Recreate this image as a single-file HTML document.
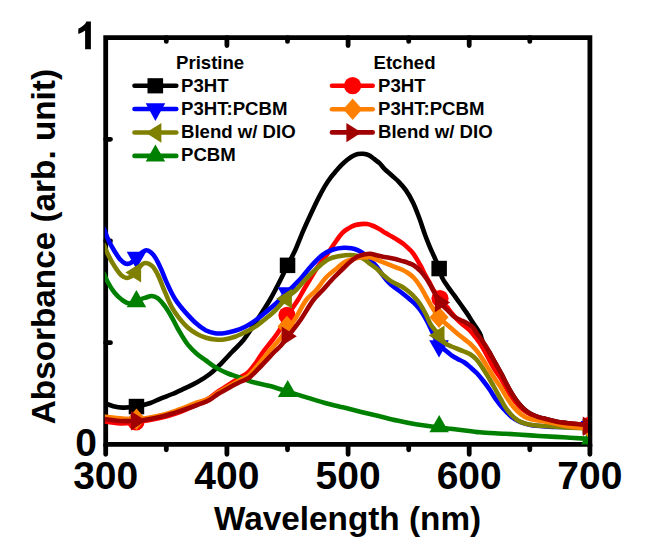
<!DOCTYPE html>
<html><head><meta charset="utf-8">
<style>
html,body{margin:0;padding:0;background:#fff;}
body{width:647px;height:555px;overflow:hidden;}
svg{display:block;}
text{font-family:"Liberation Sans",sans-serif;font-weight:bold;fill:#000;}
</style></head>
<body>
<svg width="647" height="555" viewBox="0 0 647 555">
<rect width="647" height="555" fill="#fff"/>
<defs><clipPath id="pc"><rect x="104.8" y="37.6" width="483.2" height="406.8"/></clipPath></defs>



<g stroke="#000" stroke-width="4.8" fill="none" stroke-linecap="round">
<path d="M105.7 37.6H589.9V444.4H105.7Z" stroke-linejoin="miter" stroke-linecap="butt"/>
<path d="M105.7 444.4V454.3M226.9 444.4V454.3M348.1 444.4V454.3M469.2 444.4V454.3M589.9 444.4V454.3"/>
<path d="M166.3 444.4V449.8M287.5 444.4V449.8M408.7 444.4V449.8M529.8 444.4V449.8"/>
<path d="M226.9 37.6V45.6M348.1 37.6V45.6M469.2 37.6V45.6"/>
<path d="M166.3 37.6V41.4M287.5 37.6V41.4M408.7 37.6V41.4M529.8 37.6V41.4"/>
<path d="M105.7 342.7H110.5M105.7 241H110.5M105.7 139.3H110.5"/>
</g>

<g clip-path="url(#pc)" fill="none" stroke-width="4.6" stroke-linejoin="round" stroke-linecap="round">
<path d="M105.6 403.5 C108.2 404.4 110.6 405.5 113.3 406.2 C116.2 406.9 119.2 407.5 122.6 407.6 C126.7 407.7 131.8 407.3 136.4 406.5 C141.1 405.7 146.2 404.4 150.4 403.0 C154.0 401.8 156.6 400.2 160.0 398.8 C163.9 397.2 168.3 395.7 172.4 394.0 C176.5 392.3 180.6 390.3 184.7 388.4 C188.8 386.4 193.0 384.6 197.1 382.3 C201.3 379.9 205.5 377.3 209.5 374.2 C213.8 370.9 218.0 366.6 221.8 362.8 C225.4 359.2 228.5 355.7 232.0 352.0 C235.7 348.1 239.7 344.6 243.5 340.0 C247.9 334.5 252.2 327.5 256.5 321.0 C261.0 314.2 265.7 307.0 269.8 300.0 C273.7 293.3 277.3 286.2 280.4 280.0 C283.1 274.8 285.1 270.1 287.5 265.3 C289.8 260.6 292.2 256.7 294.6 251.6 C297.5 245.4 300.1 237.9 303.2 230.8 C306.6 223.1 311.0 213.6 314.1 207.0 C316.3 202.3 318.0 198.8 320.0 195.1 C321.8 191.7 323.5 188.5 325.4 185.4 C327.1 182.5 328.9 179.8 330.8 177.3 C332.5 175.0 334.4 172.9 336.2 170.8 C338.0 168.8 339.8 166.7 341.6 164.9 C343.4 163.1 345.2 161.5 347.0 160.0 C348.8 158.6 350.5 157.2 352.4 156.2 C354.1 155.3 356.0 154.5 357.8 154.1 C359.6 153.7 361.4 153.6 363.2 153.8 C365.0 154.0 366.9 154.3 368.6 155.1 C370.5 156.0 372.3 157.6 374.1 158.9 C375.9 160.3 377.8 161.6 379.5 163.2 C381.3 164.9 382.5 166.9 384.4 168.8 C386.5 170.9 389.2 173.1 391.6 175.3 C394.0 177.5 396.5 179.4 398.8 181.8 C401.3 184.4 403.7 187.1 406.0 190.4 C408.6 194.1 411.0 198.4 413.2 203.0 C415.7 208.2 417.9 214.5 420.0 220.0 C421.9 225.2 423.4 230.4 425.2 235.2 C426.8 239.6 428.5 243.7 430.2 247.8 C431.9 251.7 433.8 255.6 435.3 259.2 C436.7 262.4 437.9 265.4 439.1 268.5 C440.3 271.7 440.9 275.1 442.4 278.1 C443.8 281.1 445.9 283.8 447.8 286.6 C449.8 289.5 452.0 292.3 454.1 295.2 C456.2 298.1 458.3 301.1 460.4 304.0 C462.5 307.0 464.6 309.8 466.7 312.9 C468.9 316.1 470.9 319.6 473.1 323.0 C475.4 326.6 478.5 330.6 480.1 334.0 C481.4 336.6 481.4 338.8 482.6 341.4 C484.1 344.6 486.8 348.0 488.9 351.5 C491.0 355.2 493.1 359.1 495.2 362.9 C497.3 366.7 499.7 370.8 501.5 374.2 C502.9 376.9 503.8 378.8 505.2 381.5 C507.0 384.9 509.3 389.4 511.5 393.0 C513.6 396.4 515.7 399.7 517.9 402.5 C519.9 405.0 522.0 407.4 524.2 409.3 C526.2 411.1 528.3 412.6 530.5 413.8 C532.6 415.0 534.8 415.8 537.0 416.6 C539.0 417.3 540.7 417.7 543.1 418.3 C546.5 419.2 551.3 420.6 555.7 421.5 C560.3 422.4 564.9 422.9 570.2 423.5 C576.7 424.2 584.7 424.8 592.0 425.5" stroke="#000000"/>
<rect x="128.7" y="398.8" width="15.5" height="15.5" fill="#000000"/>
<rect x="279.8" y="257.6" width="15.5" height="15.5" fill="#000000"/>
<rect x="431.4" y="260.8" width="15.5" height="15.5" fill="#000000"/>
<rect x="582.6" y="418.8" width="15.5" height="15.5" fill="#000000"/>
<path d="M104.0 421.5 C110.2 422.2 116.9 423.5 122.6 423.5 C127.4 423.5 131.5 422.6 136.0 422.0 C140.6 421.4 145.3 420.8 150.0 420.0 C154.7 419.2 159.9 418.0 164.0 417.0 C167.2 416.2 169.4 415.5 172.4 414.5 C176.1 413.3 180.6 411.6 184.7 410.0 C188.9 408.3 193.0 406.5 197.1 404.5 C201.3 402.5 205.8 400.3 209.5 398.0 C212.7 396.0 215.2 393.5 218.0 391.5 C220.7 389.7 223.4 388.1 226.0 386.5 C228.4 385.0 230.7 383.5 233.0 382.0 C235.3 380.5 237.6 379.0 240.0 377.5 C242.6 375.9 245.6 374.6 248.0 372.5 C250.4 370.4 252.1 367.9 254.3 365.0 C257.1 361.3 259.9 356.2 263.0 352.0 C266.0 347.9 269.7 343.7 272.5 340.0 C274.9 336.8 276.8 334.5 279.0 331.0 C281.7 326.6 284.2 320.6 287.3 315.5 C290.5 310.2 295.0 304.7 297.9 300.0 C300.2 296.4 301.7 293.3 303.6 290.0 C305.6 286.7 307.5 283.5 309.6 280.0 C311.9 276.2 314.3 272.0 317.0 268.0 C319.9 263.7 323.5 259.5 326.7 255.0 C329.9 250.5 333.3 245.0 336.2 241.0 C338.4 237.9 340.2 235.0 342.4 232.8 C344.3 230.9 346.4 229.7 348.5 228.4 C350.5 227.2 352.6 226.0 354.7 225.3 C356.7 224.6 358.8 224.3 360.9 224.1 C363.0 223.9 365.1 223.8 367.1 224.1 C369.2 224.4 371.3 225.2 373.3 226.0 C375.4 226.8 377.5 227.9 379.5 229.1 C381.6 230.3 383.5 231.9 385.6 233.1 C387.6 234.3 389.7 235.3 391.8 236.5 C393.9 237.7 396.0 238.9 398.0 240.2 C400.1 241.5 402.4 243.0 404.2 244.5 C405.8 245.8 407.1 247.2 408.5 248.5 C409.8 249.7 411.0 250.7 412.2 252.2 C413.7 254.0 415.1 256.3 416.5 258.6 C418.0 261.0 419.4 263.6 420.8 266.2 C422.3 269.0 423.6 272.1 425.1 274.9 C426.5 277.5 428.2 280.0 429.5 282.4 C430.7 284.6 431.3 286.6 432.7 288.9 C434.5 291.9 437.6 295.4 440.0 298.5 C442.3 301.4 444.9 304.3 447.0 307.0 C448.8 309.3 450.2 311.4 452.0 313.5 C453.8 315.7 455.8 318.0 457.8 320.0 C459.8 322.0 461.9 323.7 464.0 325.5 C466.1 327.3 468.4 328.9 470.4 331.0 C472.6 333.2 474.5 335.8 476.5 338.5 C478.6 341.3 480.6 344.3 482.6 347.5 C484.8 351.1 486.8 355.3 488.9 359.1 C491.0 362.9 493.0 366.9 495.2 370.4 C497.2 373.6 499.5 376.3 501.5 379.5 C503.5 382.7 505.2 386.4 507.0 389.5 C508.7 392.3 510.2 394.9 512.0 397.5 C513.8 400.1 515.9 402.8 518.0 405.0 C519.9 407.1 521.9 408.9 524.0 410.5 C526.1 412.1 527.9 413.2 530.5 414.5 C533.9 416.2 538.7 418.2 543.0 419.5 C547.2 420.7 551.6 421.3 556.0 422.0 C560.6 422.7 564.8 423.0 570.0 423.5 C576.5 424.1 584.7 424.5 592.0 425.0" stroke="#ff0000"/>
<circle cx="136.0" cy="422.0" r="8.6" fill="#ff0000"/>
<circle cx="287.0" cy="315.3" r="8.6" fill="#ff0000"/>
<circle cx="440.0" cy="298.5" r="8.6" fill="#ff0000"/>
<circle cx="590.4" cy="425.0" r="8.6" fill="#ff0000"/>
<path d="M104.0 229.0 C105.5 232.8 106.8 236.8 108.6 240.5 C110.3 244.1 112.4 247.7 114.4 251.0 C116.3 254.0 118.2 257.3 120.2 259.5 C121.8 261.2 123.4 262.9 125.2 263.5 C126.7 264.0 128.4 263.9 130.0 263.3 C132.0 262.5 134.1 260.2 136.0 258.5 C138.0 256.7 139.8 254.0 141.8 252.6 C143.4 251.5 145.1 250.1 146.8 250.3 C148.9 250.5 151.3 252.6 153.3 254.8 C156.0 257.8 158.3 263.3 160.5 267.7 C162.7 272.2 164.1 276.8 166.3 281.6 C168.8 287.1 171.5 293.4 175.0 298.9 C178.7 304.6 183.9 310.6 188.0 315.1 C191.2 318.6 193.9 321.5 197.0 324.1 C199.9 326.6 202.9 329.0 206.0 330.5 C208.9 331.9 212.0 332.8 215.0 333.2 C218.0 333.6 220.9 333.5 224.0 333.2 C227.5 332.8 231.4 331.9 235.0 330.8 C238.7 329.7 242.3 328.3 245.8 326.5 C249.5 324.6 253.2 322.0 256.6 319.5 C259.9 317.1 262.9 314.6 266.0 312.0 C269.2 309.4 272.1 307.0 275.4 304.0 C279.2 300.5 283.3 296.1 287.4 292.0 C291.7 287.6 296.9 282.8 300.8 278.5 C304.1 274.9 306.8 271.1 309.5 268.0 C311.8 265.4 313.8 263.2 316.0 261.0 C318.1 258.9 319.9 256.8 322.5 255.0 C325.5 252.9 329.5 250.7 333.2 249.5 C336.7 248.4 340.7 248.0 344.0 247.8 C346.7 247.7 349.0 247.8 351.3 248.2 C353.5 248.6 355.6 249.2 357.6 250.1 C359.8 251.1 361.9 252.4 363.9 253.9 C366.1 255.5 368.1 257.6 370.2 259.6 C372.4 261.7 374.5 264.0 376.5 266.5 C378.7 269.2 380.6 272.6 382.8 275.4 C384.8 278.1 386.9 280.7 389.1 282.9 C391.1 284.9 393.3 286.3 395.4 288.0 C397.6 289.7 399.7 291.2 402.0 293.0 C404.6 295.0 407.6 297.4 410.0 299.5 C412.2 301.4 414.1 302.9 416.0 305.0 C418.1 307.2 420.1 309.7 422.0 312.5 C424.1 315.6 426.2 319.5 428.0 323.0 C429.8 326.5 431.2 329.9 433.0 333.5 C434.9 337.3 436.7 342.1 439.0 345.0 C440.9 347.3 443.1 348.6 445.2 350.3 C447.3 352.0 449.4 353.8 451.5 355.3 C453.6 356.7 455.7 357.9 457.8 359.1 C459.9 360.2 462.1 360.9 464.1 362.2 C466.3 363.6 468.3 365.5 470.4 367.3 C472.5 369.1 474.7 370.9 476.7 373.0 C478.9 375.3 480.9 377.8 483.0 380.5 C485.3 383.4 487.8 386.8 490.0 390.0 C492.1 393.1 494.0 396.6 496.0 399.5 C497.8 402.1 499.7 404.3 501.5 406.5 C503.2 408.5 504.8 410.2 506.5 412.0 C508.3 413.8 510.0 415.8 512.0 417.3 C513.9 418.8 515.9 420.0 518.0 421.0 C520.0 422.0 522.1 422.7 524.2 423.4 C526.3 424.1 527.9 424.6 530.5 425.0 C534.3 425.7 540.1 426.1 545.0 426.4 C550.0 426.7 554.1 426.9 560.0 427.0 C568.7 427.2 581.3 427.2 592.0 427.3" stroke="#0000ff"/>
<path d="M136.4 269.0 L146.2 251.8 L126.7 251.8 Z" fill="#0000ff"/>
<path d="M287.4 304.5 L297.1 287.3 L277.6 287.3 Z" fill="#0000ff"/>
<path d="M439.0 357.4 L448.8 340.2 L429.2 340.2 Z" fill="#0000ff"/>
<path d="M590.4 438.3 L600.1 421.1 L580.6 421.1 Z" fill="#0000ff"/>
<path d="M104.0 245.0 C105.3 248.2 106.4 251.2 108.0 254.5 C109.8 258.2 112.1 262.4 114.4 266.0 C116.6 269.4 119.2 273.5 121.6 275.5 C123.3 276.9 125.1 277.9 126.7 278.0 C128.2 278.1 129.6 277.3 131.0 276.5 C132.7 275.5 134.5 273.7 136.0 272.0 C137.6 270.2 138.9 267.6 140.5 266.0 C141.8 264.7 143.0 263.2 144.7 263.0 C146.7 262.7 149.9 264.1 151.9 265.8 C154.3 267.7 155.8 270.9 157.6 274.4 C160.1 279.1 162.4 286.1 164.8 291.7 C167.2 297.1 169.4 303.0 172.0 307.6 C174.2 311.5 176.4 314.5 179.0 317.8 C181.7 321.2 184.8 324.9 188.0 327.7 C190.9 330.2 193.9 332.3 197.0 334.0 C199.9 335.6 203.0 336.8 206.0 337.7 C209.0 338.6 212.0 339.2 215.0 339.5 C218.0 339.8 220.9 339.9 224.0 339.5 C227.5 339.1 231.4 338.0 235.0 336.8 C238.7 335.5 242.2 333.7 245.8 331.9 C249.4 330.1 253.3 328.1 256.6 325.9 C259.7 323.8 262.3 321.5 265.3 319.0 C268.6 316.3 272.0 313.6 275.4 310.3 C279.2 306.5 283.3 301.1 287.0 297.5 C290.1 294.5 293.1 292.8 296.0 290.0 C299.1 287.0 301.7 283.4 305.0 280.0 C308.7 276.1 313.1 271.6 317.2 268.0 C321.1 264.7 324.9 261.0 329.0 259.0 C332.6 257.2 336.4 256.7 340.0 256.0 C343.4 255.4 346.9 255.0 350.0 255.0 C352.7 255.0 355.2 255.3 357.6 256.0 C359.9 256.7 361.9 257.7 363.9 259.0 C366.1 260.4 368.1 262.4 370.2 264.0 C372.3 265.5 374.5 266.7 376.5 268.4 C378.7 270.2 380.6 272.8 382.8 274.7 C384.9 276.5 386.9 278.3 389.1 279.8 C391.1 281.2 393.3 282.4 395.4 283.5 C397.5 284.6 399.7 285.3 401.7 286.5 C403.9 287.8 406.0 289.4 408.0 291.0 C410.1 292.7 412.1 294.4 414.0 296.5 C416.1 298.7 418.1 301.2 420.0 304.0 C422.1 307.1 424.2 311.0 426.0 314.5 C427.8 318.0 428.9 321.6 431.0 325.0 C433.3 328.6 436.8 332.2 439.3 335.5 C441.5 338.3 443.0 341.4 445.2 343.3 C447.1 344.9 449.4 345.5 451.5 346.5 C453.6 347.4 455.7 348.2 457.8 349.0 C459.9 349.8 462.0 350.6 464.1 351.5 C466.2 352.4 468.2 353.1 470.2 354.3 C472.4 355.7 474.5 357.4 476.5 359.5 C478.7 361.9 480.6 364.9 482.6 367.9 C484.7 371.1 486.8 374.5 488.9 378.0 C491.0 381.6 493.2 385.4 495.2 389.0 C497.2 392.5 499.2 396.3 501.0 399.5 C502.5 402.2 503.5 404.5 505.2 407.0 C507.0 409.7 509.3 412.7 511.5 415.0 C513.5 417.1 515.7 419.1 517.9 420.5 C519.9 421.8 522.1 422.6 524.2 423.3 C526.3 424.0 528.0 424.3 530.5 424.7 C534.0 425.3 538.9 425.6 543.1 426.0 C547.3 426.3 551.4 426.5 555.7 426.8 C560.4 427.1 564.9 427.4 570.2 427.7 C576.7 428.0 584.7 428.2 592.0 428.5" stroke="#808000"/>
<path d="M125.4 272.6 L141.1 262.8 L141.1 282.5 Z" fill="#808000"/>
<path d="M276.2 298.7 L291.9 288.8 L291.9 308.6 Z" fill="#808000"/>
<path d="M428.8 335.5 L444.5 325.6 L444.5 345.4 Z" fill="#808000"/>
<path d="M579.9 428.5 L595.6 418.6 L595.6 438.4 Z" fill="#808000"/>
<path d="M104.0 274.0 C105.3 276.8 106.4 279.6 108.0 282.5 C109.8 285.8 112.0 289.6 114.4 292.5 C116.6 295.2 119.1 297.7 121.6 299.5 C123.9 301.2 126.3 303.0 128.8 303.3 C131.2 303.6 134.4 302.4 136.4 301.6 C137.9 301.0 138.6 300.1 140.0 299.5 C141.7 298.7 144.1 298.1 146.1 297.5 C148.0 296.9 150.0 295.9 151.9 296.0 C153.8 296.1 155.7 296.9 157.6 298.2 C160.1 299.9 162.5 303.1 164.8 306.1 C167.4 309.5 169.8 313.7 172.0 317.6 C174.2 321.4 175.7 324.9 178.0 329.0 C180.8 333.9 184.5 340.5 188.0 344.9 C190.9 348.5 193.9 351.2 197.0 353.9 C199.9 356.4 202.9 358.3 206.0 360.5 C209.1 362.8 212.1 365.3 215.6 367.4 C219.4 369.7 224.1 371.9 228.0 373.5 C231.2 374.8 233.8 375.4 237.2 376.6 C241.5 378.1 246.5 380.2 251.6 381.7 C257.3 383.4 264.0 384.3 270.0 386.0 C275.9 387.6 281.5 389.7 287.4 391.5 C293.4 393.4 299.6 395.2 305.7 397.1 C311.8 399.0 318.0 401.0 324.2 402.7 C330.4 404.4 336.6 405.8 342.8 407.3 C349.0 408.8 355.2 410.4 361.3 411.9 C367.2 413.3 372.7 414.6 378.6 416.0 C384.7 417.5 390.9 419.2 397.1 420.6 C403.3 422.0 409.1 423.2 415.7 424.3 C423.0 425.5 432.2 426.7 439.0 427.5 C444.2 428.1 447.9 428.4 452.8 429.0 C458.5 429.7 466.3 430.6 471.3 431.2 C474.7 431.6 476.3 432.0 480.0 432.3 C486.2 432.9 496.8 433.2 505.2 433.7 C513.6 434.2 522.1 434.9 530.5 435.4 C538.9 435.9 548.5 436.5 555.7 436.9 C561.2 437.2 564.9 437.4 570.2 437.7 C576.7 438.1 584.7 438.6 592.0 439.0" stroke="#008000"/>
<path d="M136.4 290.1 L146.2 307.3 L126.7 307.3 Z" fill="#008000"/>
<path d="M287.7 379.9 L297.4 397.1 L277.9 397.1 Z" fill="#008000"/>
<path d="M439.2 415.1 L448.9 432.3 L429.4 432.3 Z" fill="#008000"/>
<path d="M590.4 428.0 L600.1 445.2 L580.6 445.2 Z" fill="#008000"/>
<path d="M104.0 416.5 C110.2 417.2 116.8 418.0 122.6 418.5 C127.6 418.9 131.9 419.5 136.5 419.3 C141.0 419.1 145.5 418.3 150.0 417.5 C154.6 416.7 159.9 415.5 164.0 414.5 C167.2 413.7 169.4 413.0 172.4 412.0 C176.1 410.8 180.6 409.1 184.7 407.5 C188.8 405.9 192.9 404.0 197.1 402.5 C201.2 401.0 205.9 400.1 209.5 398.3 C212.7 396.7 215.2 394.3 218.0 392.5 C220.7 390.8 223.4 389.5 226.0 388.0 C228.4 386.6 230.7 385.3 233.0 384.0 C235.3 382.7 237.6 381.3 240.0 380.0 C242.6 378.6 245.4 378.0 248.0 376.0 C251.4 373.4 254.7 368.9 258.0 365.0 C261.5 360.9 265.0 356.2 268.5 352.0 C272.0 347.9 275.8 344.0 279.0 340.0 C282.0 336.3 284.7 332.5 287.4 329.0 C289.9 325.8 292.0 323.7 294.5 320.0 C298.1 314.7 302.1 305.3 306.2 300.0 C309.4 295.8 313.1 293.6 316.3 290.0 C319.7 286.2 322.4 281.2 326.0 277.5 C329.5 273.9 334.0 270.7 337.3 268.0 C339.8 265.9 341.6 263.9 344.0 262.5 C346.3 261.1 348.9 260.3 351.3 259.5 C353.4 258.8 355.5 258.4 357.6 258.0 C359.7 257.6 361.8 257.4 363.9 257.3 C366.0 257.2 368.1 256.9 370.2 257.3 C372.3 257.7 374.4 258.8 376.5 259.6 C378.6 260.4 380.7 261.3 382.8 262.1 C384.9 262.9 387.0 263.8 389.1 264.6 C391.2 265.5 393.3 266.4 395.4 267.2 C397.5 268.0 399.6 268.6 401.7 269.5 C403.8 270.5 406.0 271.6 408.0 273.0 C410.1 274.4 412.1 276.0 414.0 278.0 C416.1 280.3 418.1 283.1 420.0 286.0 C422.1 289.2 424.0 293.0 426.0 296.5 C428.0 300.0 429.9 303.6 432.0 307.0 C434.2 310.5 436.3 314.2 439.0 317.3 C441.7 320.4 444.9 322.8 448.0 325.5 C451.2 328.3 454.9 331.5 457.8 333.9 C460.1 335.8 462.0 337.2 464.1 338.9 C466.2 340.6 468.4 342.1 470.4 344.0 C472.5 346.0 474.5 348.1 476.5 350.5 C478.6 353.1 480.6 356.1 482.6 359.1 C484.7 362.3 486.8 365.8 488.9 369.2 C491.0 372.6 493.2 376.2 495.2 379.3 C496.9 381.9 498.7 384.0 500.3 386.5 C502.0 389.2 503.4 392.1 505.2 395.0 C507.1 398.1 509.3 401.7 511.5 404.5 C513.5 407.1 515.7 409.4 517.9 411.5 C519.9 413.4 522.0 415.2 524.2 416.5 C526.2 417.7 528.0 418.3 530.5 419.0 C533.9 420.0 538.9 420.4 543.1 421.2 C547.4 422.0 551.6 422.8 556.0 423.7 C560.6 424.6 564.9 425.7 570.2 426.5 C576.7 427.5 584.7 428.2 592.0 429.0" stroke="#ff8000"/>
<path d="M136.5 408.6 L146.0 419.3 L136.5 430.0 L127.0 419.3 Z" fill="#ff8000"/>
<path d="M287.0 315.8 L296.5 326.5 L287.0 337.2 L277.5 326.5 Z" fill="#ff8000"/>
<path d="M439.0 306.6 L448.5 317.3 L439.0 328.0 L429.5 317.3 Z" fill="#ff8000"/>
<path d="M590.4 418.3 L599.9 429.0 L590.4 439.7 L580.9 429.0 Z" fill="#ff8000"/>
<path d="M104.0 419.0 C110.2 419.7 116.9 420.7 122.6 421.0 C127.4 421.2 131.5 421.1 136.0 420.8 C140.6 420.5 145.3 419.8 150.0 419.0 C154.7 418.2 159.9 417.0 164.0 416.0 C167.2 415.2 169.3 414.5 172.4 413.5 C176.1 412.3 180.6 410.9 184.7 409.5 C188.8 408.1 193.0 406.6 197.1 405.0 C201.2 403.4 205.9 402.0 209.5 400.0 C212.7 398.2 215.2 395.8 218.0 394.0 C220.7 392.3 223.4 391.0 226.0 389.5 C228.4 388.1 230.6 386.8 233.0 385.5 C235.3 384.3 237.6 383.1 240.0 382.0 C242.6 380.8 245.1 380.4 248.0 378.5 C252.3 375.7 257.5 369.5 262.0 365.0 C266.3 360.7 270.8 355.6 274.3 352.0 C276.8 349.4 278.8 347.9 281.0 345.5 C283.4 342.8 285.3 340.0 288.0 336.5 C291.6 331.8 296.4 325.8 300.5 320.0 C304.9 313.7 309.2 305.4 313.4 300.0 C316.6 295.9 319.6 293.5 322.8 290.0 C326.4 286.1 330.3 281.3 334.0 277.5 C337.3 274.1 340.8 270.8 343.7 268.0 C346.0 265.8 347.7 263.9 350.0 262.0 C352.4 260.0 355.1 257.8 357.6 256.5 C359.7 255.4 361.8 255.0 363.9 254.5 C366.0 254.1 368.1 253.7 370.2 253.8 C372.3 253.9 374.4 254.7 376.5 255.2 C378.6 255.7 380.7 256.3 382.8 256.7 C384.9 257.1 387.0 257.3 389.1 257.7 C391.2 258.1 393.3 258.5 395.4 259.0 C397.5 259.5 399.6 260.3 401.7 260.9 C403.8 261.5 405.9 262.0 408.0 262.8 C410.0 263.6 412.1 264.3 414.0 265.5 C416.1 266.8 418.1 268.6 420.0 270.5 C422.1 272.7 424.1 275.3 426.0 278.0 C428.1 281.0 429.9 284.4 432.0 288.0 C434.4 292.2 436.6 298.1 439.5 302.0 C442.0 305.4 445.2 307.8 447.8 310.4 C450.0 312.7 451.9 315.1 454.1 316.7 C456.1 318.2 458.3 318.9 460.4 320.0 C462.5 321.0 464.6 321.8 466.7 323.0 C468.9 324.3 471.5 325.8 473.1 327.5 C474.5 329.0 475.0 330.7 476.3 332.6 C478.0 335.2 480.5 338.3 482.6 341.4 C484.8 344.6 486.8 348.0 488.9 351.5 C491.0 355.2 493.1 359.1 495.2 362.9 C497.3 366.7 499.7 370.8 501.5 374.2 C502.9 376.9 503.8 378.8 505.2 381.5 C507.0 384.9 509.3 389.4 511.5 393.0 C513.6 396.4 515.7 399.7 517.9 402.5 C519.9 405.0 522.0 407.4 524.2 409.3 C526.2 411.1 528.3 412.6 530.5 413.8 C532.6 415.0 534.8 415.8 537.0 416.6 C539.0 417.3 540.7 417.7 543.1 418.3 C546.5 419.2 551.3 420.6 555.7 421.5 C560.3 422.4 564.9 422.9 570.2 423.5 C576.7 424.2 584.7 424.8 592.0 425.5" stroke="#a00000"/>
<path d="M146.1 420.8 L130.9 411.1 L130.9 430.5 Z" fill="#a00000"/>
<path d="M296.8 336.2 L281.6 326.5 L281.6 345.9 Z" fill="#a00000"/>
<path d="M450.1 302.5 L434.9 292.8 L434.9 312.2 Z" fill="#a00000"/>
<path d="M598.0 426.2 L582.8 416.5 L582.8 435.9 Z" fill="#a00000"/>
</g>

<path d="M85.1 49.2H90.9V21.6H86.4C85.3 24.6 82 27 78.3 28.7V33.9C80.8 33.1 83.1 32 85.1 30.4Z" fill="#000"/>
<g font-size="39">
<text x="97" y="456.2" text-anchor="end">0</text>
<g text-anchor="middle">
<text x="105.7" y="489.1">300</text>
<text x="226.9" y="489.1">400</text>
<text x="348.1" y="489.1">500</text>
<text x="469.2" y="489.1">600</text>
<text x="589.9" y="489.1">700</text>
</g>
</g>
<text x="347.6" y="529.8" font-size="33.3" text-anchor="middle">Wavelength (nm)</text>
<text transform="translate(55,246.6) rotate(-90)" font-size="33.3" text-anchor="middle">Absorbance (arb. unit)</text>

<g font-size="18.6">
<text x="176" y="68.5">Pristine</text>
<text x="181" y="91.8">P3HT</text>
<text x="181" y="115.1">P3HT:PCBM</text>
<text x="181" y="138.2">Blend w/ DIO</text>
<text x="181" y="161.3">PCBM</text>
<text x="373.5" y="68.5">Etched</text>
<text x="378" y="91.8">P3HT</text>
<text x="378" y="115.1">P3HT:PCBM</text>
<text x="378" y="138.2">Blend w/ DIO</text>
</g>
<g stroke-width="4.6" stroke-linecap="round" fill="none">
<path d="M134.5 85.8H176.3" stroke="#000"/>
<path d="M134.5 109H176.3" stroke="#0000ff"/>
<path d="M134.5 132.5H176.3" stroke="#808000"/>
<path d="M134.5 155.9H176.3" stroke="#008000"/>
<path d="M332 85.8H372.7" stroke="#ff0000"/>
<path d="M332 109.2H372.7" stroke="#ff8000"/>
<path d="M332 132.4H372.7" stroke="#a00000"/>
</g>
<g>
<rect x="147.5" y="78.2" width="15.6" height="15.2" fill="#000"/>
<path d="M145.7 103.2H165.2L155.4 120.9Z" fill="#0000ff"/>
<path d="M145.7 132.8L161.4 123V142.7Z" fill="#808000"/>
<path d="M155.4 144.6L165.2 161.6H145.7Z" fill="#008000"/>
<circle cx="352.6" cy="85.7" r="8.6" fill="#ff0000"/>
<path d="M352.7 98.6L362.2 109.3L352.7 120L343.2 109.3Z" fill="#ff8000"/>
<path d="M346.4 123L361.5 132.6L346.4 142.3Z" fill="#a00000"/>
</g>
</svg>
</body></html>
